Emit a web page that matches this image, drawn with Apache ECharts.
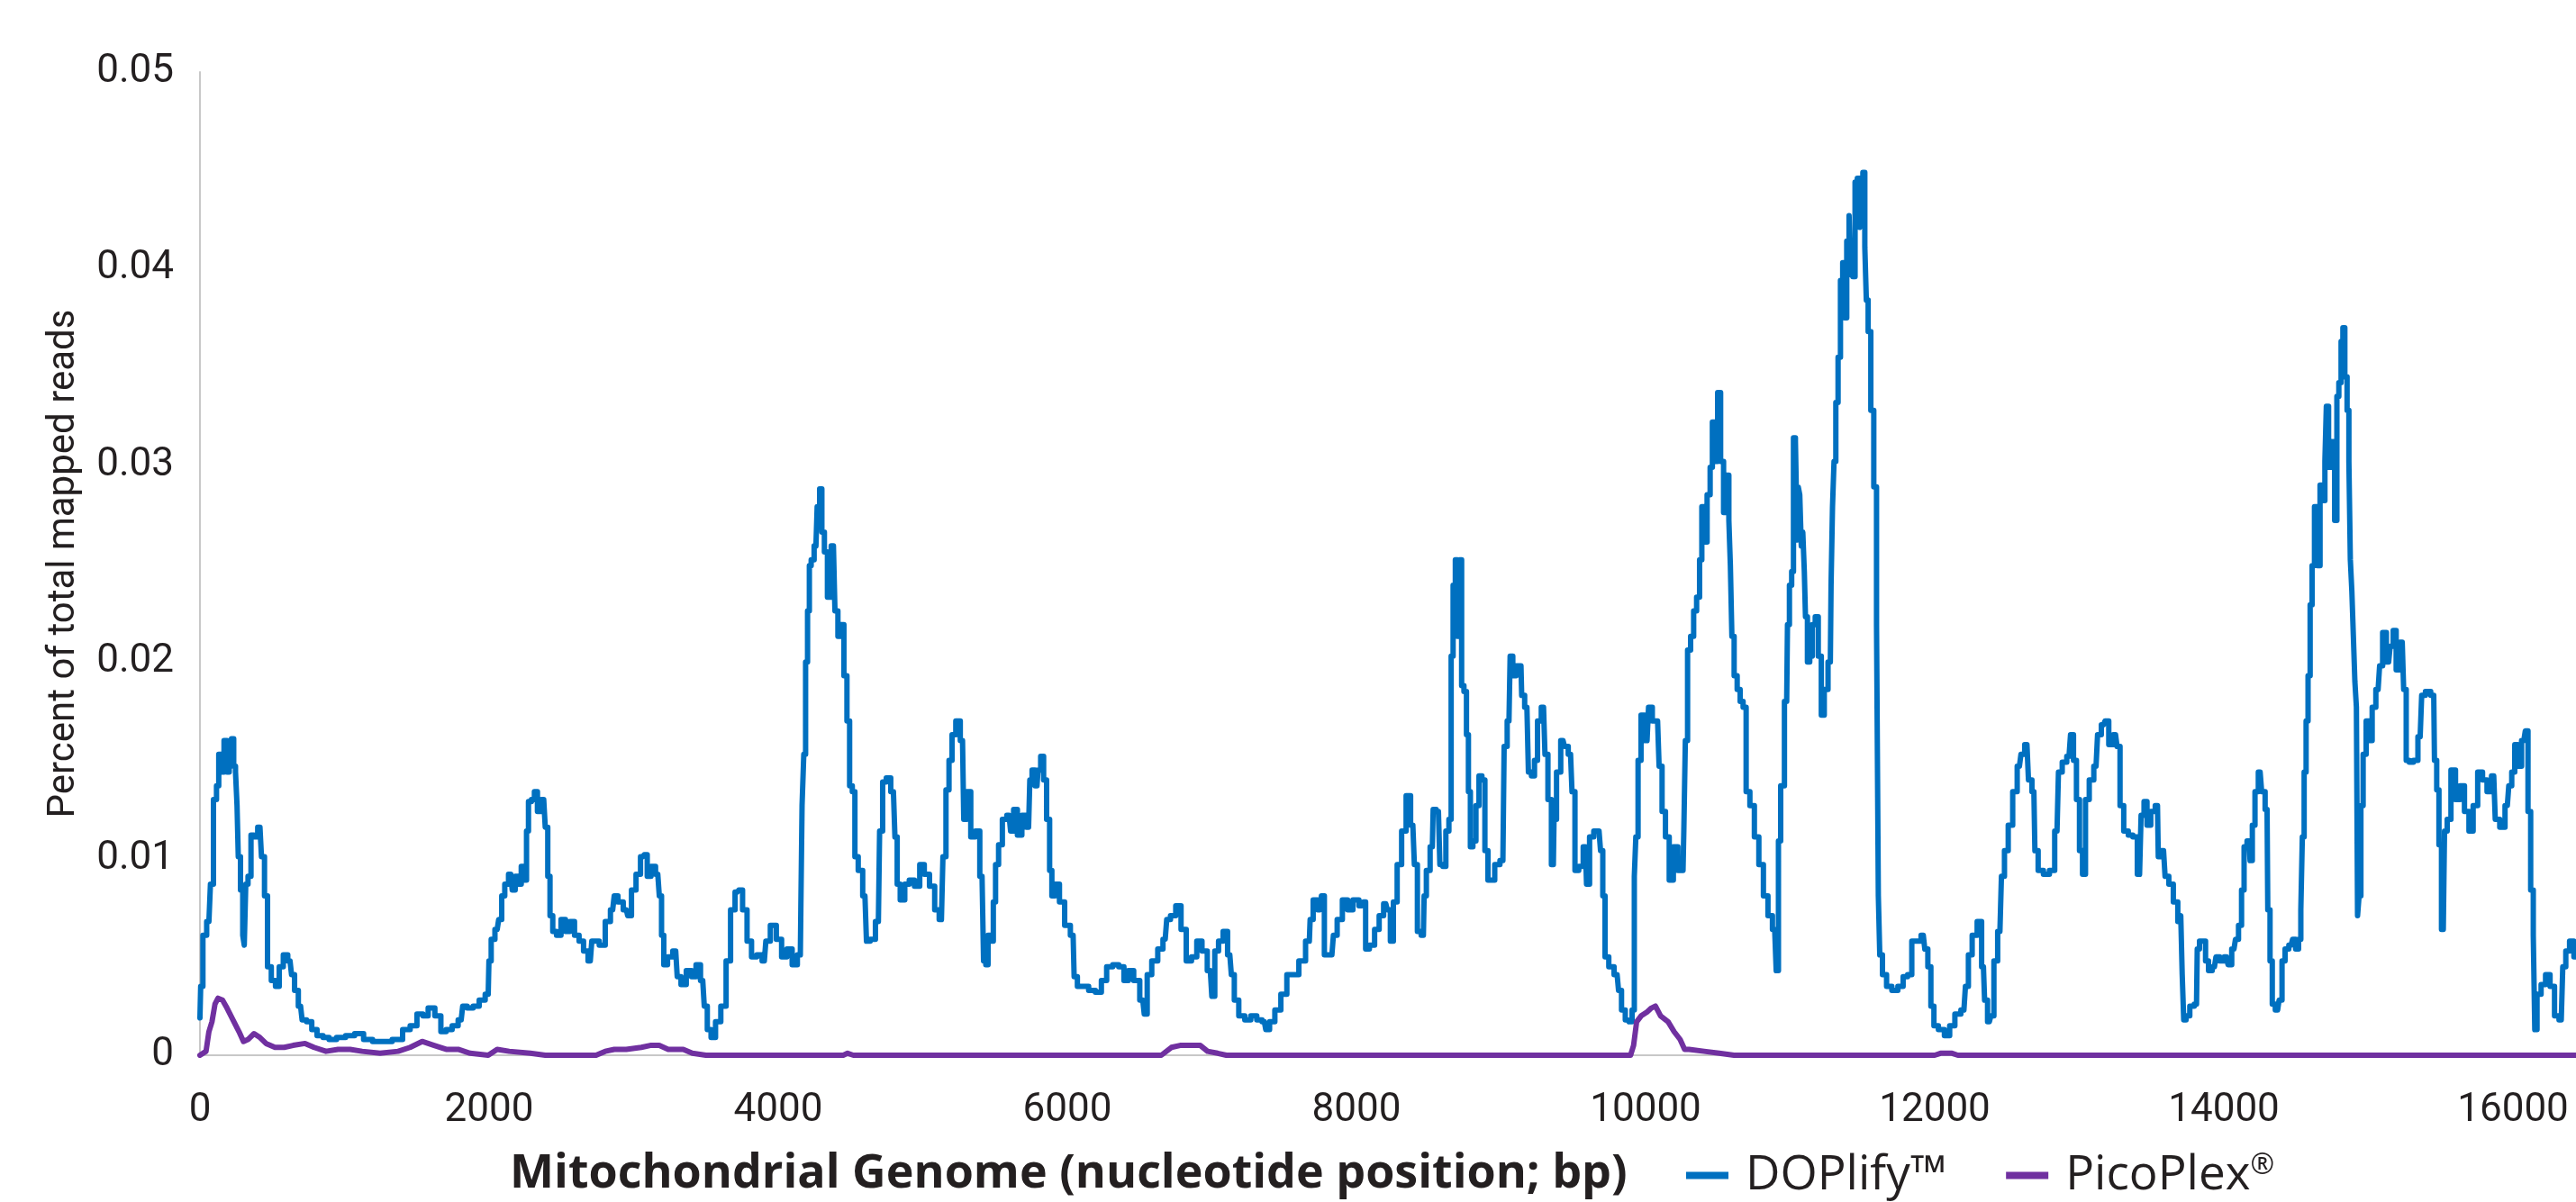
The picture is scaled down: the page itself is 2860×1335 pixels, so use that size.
<!DOCTYPE html>
<html>
<head>
<meta charset="utf-8">
<script src="https://cdn.jsdelivr.net/npm/echarts@6/dist/echarts.min.js"></script>
<style>
html,body{margin:0;padding:0;background:#fff;}
#chart{width:2860px;height:1335px;}
</style>
</head>
<body>
<div id="chart"></div>
<script>
// Series names
const seriesNames = ['DOPlify™', 'PicoPlex®'];
const xAxisTitle = 'Mitochondrial Genome (nucleotide position; bp)';
const yAxisTitle = 'Percent of total mapped reads';

// [nucleotide position (bp), percent of total mapped reads]
const doplifyCoverage = [
[0,0.0019],[10,0.0035],[31,0.0061],[62,0.0068],[83,0.0087],[104,0.0130],[125,0.0137],[135,0.0153],[156,0.0144],[177,0.0160],[197,0.0144],[208,0.0157],[228,0.0161],[239,0.0147],[253,0.0144],[260,0.0127],[270,0.0101],[291,0.0084],[301,0.0061],[312,0.0056],[322,0.0087],[343,0.0091],[363,0.0112],[384,0.0111],[415,0.0116],[436,0.0101],[457,0.0081],[478,0.0045],[509,0.0038],[536,0.0035],[561,0.0045],[592,0.0051],[623,0.0048],[644,0.0041],[665,0.0033],[696,0.0025],[717,0.0018],[758,0.0017],[789,0.0013],[831,0.0010],[872,0.0009],[914,0.0008],[976,0.0009],[1039,0.0010],[1101,0.0011],[1163,0.0008],[1225,0.0007],[1288,0.0007],[1371,0.0008],[1433,0.0013],[1475,0.0015],[1527,0.0021],[1558,0.0020],[1599,0.0024],[1651,0.0020],[1682,0.0012],[1724,0.0013],[1765,0.0015],[1807,0.0018],[1828,0.0025],[1869,0.0024],[1911,0.0025],[1952,0.0028],[1994,0.0031],[2004,0.0048],[2025,0.0059],[2056,0.0064],[2077,0.0069],[2098,0.0081],[2119,0.0087],[2150,0.0092],[2170,0.0084],[2191,0.0091],[2212,0.0087],[2233,0.0096],[2254,0.0089],[2264,0.0114],[2281,0.0129],[2305,0.0130],[2322,0.0134],[2347,0.0124],[2378,0.0130],[2399,0.0116],[2413,0.0091],[2430,0.0071],[2451,0.0063],[2482,0.0061],[2513,0.0069],[2544,0.0063],[2575,0.0068],[2607,0.0061],[2638,0.0058],[2669,0.0053],[2700,0.0048],[2721,0.0058],
[2741,0.0058],[2783,0.0056],[2824,0.0068],[2855,0.0074],[2876,0.0081],[2907,0.0078],[2949,0.0074],[2969,0.0071],[3001,0.0084],[3032,0.0092],[3063,0.0101],[3084,0.0102],[3104,0.0091],[3136,0.0096],[3167,0.0092],[3188,0.0081],[3198,0.0061],[3219,0.0046],[3250,0.0050],[3291,0.0053],[3312,0.0040],[3343,0.0036],[3385,0.0043],[3416,0.0040],[3447,0.0046],[3478,0.0038],[3499,0.0025],[3520,0.0013],[3551,0.0009],[3582,0.0017],[3624,0.0025],[3655,0.0048],[3686,0.0074],[3717,0.0083],[3738,0.0084],[3769,0.0074],[3800,0.0058],[3831,0.0050],[3873,0.0051],[3904,0.0048],[3925,0.0058],[3966,0.0066],[4008,0.0059],[4039,0.0050],[4081,0.0054],[4112,0.0046],[4153,0.0051],[4160,0.0074],[4170,0.0127],[4184,0.0153],[4195,0.0200],[4211,0.0226],[4220,0.0249],[4236,0.0252],[4261,0.0259],[4278,0.0279],[4295,0.0288],[4309,0.0266],[4330,0.0256],[4351,0.0233],[4382,0.0259],[4403,0.0226],[4423,0.0213],[4444,0.0219],[4465,0.0193],[4486,0.0170],[4502,0.0137],[4523,0.0134],[4538,0.0101],[4569,0.0094],[4600,0.0081],[4621,0.0058],[4652,0.0059],[4693,0.0068],[4710,0.0114],[4735,0.0139],[4760,0.0141],[4797,0.0134],[4818,0.0111],[4828,0.0087],[4860,0.0079],[4891,0.0087],[4922,0.0089],[4963,0.0086],[4995,0.0097],[5026,0.0092],[5067,0.0086],[5098,0.0074],[5129,0.0069],[5150,0.0101],[5171,0.0135],[5192,0.0150],[5213,0.0163],[5244,0.0170],[5275,0.0160],[5292,0.0120],[5316,0.0134],[5348,0.0111],[5379,0.0114],[5410,0.0091],[5431,0.0048],[5441,0.0046],[5462,0.0061],
[5483,0.0058],[5493,0.0078],[5514,0.0097],[5535,0.0107],[5566,0.0120],[5597,0.0122],[5618,0.0114],[5639,0.0125],[5670,0.0112],[5701,0.0122],[5732,0.0116],[5749,0.0140],[5763,0.0145],[5790,0.0137],[5805,0.0145],[5826,0.0152],[5846,0.0140],[5867,0.0120],[5888,0.0094],[5898,0.0081],[5930,0.0087],[5961,0.0078],[6002,0.0066],[6040,0.0061],[6054,0.0040],[6085,0.0035],[6127,0.0035],[6168,0.0033],[6220,0.0032],[6251,0.0038],[6293,0.0045],[6335,0.0046],[6376,0.0045],[6407,0.0038],[6438,0.0043],[6480,0.0038],[6522,0.0028],[6542,0.0021],[6563,0.0041],[6605,0.0048],[6646,0.0054],[6677,0.0059],[6698,0.0069],[6729,0.0071],[6771,0.0076],[6802,0.0064],[6843,0.0048],[6875,0.0050],[6916,0.0058],[6947,0.0053],[6989,0.0043],[7010,0.0030],[7030,0.0053],[7062,0.0058],[7093,0.0063],[7124,0.0051],[7145,0.0041],[7165,0.0028],[7207,0.0020],[7248,0.0018],[7290,0.0020],[7331,0.0018],[7363,0.0017],[7383,0.0013],[7415,0.0017],[7456,0.0023],[7498,0.0031],[7539,0.0041],[7581,0.0041],[7622,0.0048],[7674,0.0058],[7685,0.0069],[7716,0.0079],[7747,0.0074],[7768,0.0081],[7788,0.0051],[7830,0.0051],[7851,0.0061],[7882,0.0069],[7923,0.0079],[7955,0.0074],[7996,0.0079],[8038,0.0076],[8058,0.0078],[8069,0.0054],[8110,0.0056],[8141,0.0064],[8173,0.0071],[8203,0.0077],
[8224,0.0074],[8245,0.0058],[8266,0.0078],[8297,0.0097],[8328,0.0114],[8359,0.0132],[8390,0.0117],[8411,0.0097],[8432,0.0063],[8463,0.0061],[8473,0.0081],[8494,0.0094],[8525,0.0106],[8536,0.0125],[8567,0.0124],[8587,0.0097],[8608,0.0096],[8629,0.0114],[8650,0.0120],[8660,0.0203],[8677,0.0239],[8691,0.0252],[8706,0.0213],[8722,0.0252],[8733,0.0188],[8754,0.0185],[8768,0.0163],[8781,0.0134],[8795,0.0106],[8816,0.0109],[8837,0.0127],[8858,0.0142],[8878,0.0140],[8899,0.0104],[8920,0.0089],[8941,0.0089],[8972,0.0097],[9013,0.0099],[9030,0.0157],[9055,0.0170],[9071,0.0203],[9092,0.0193],[9117,0.0198],[9138,0.0198],[9148,0.0183],[9179,0.0177],[9200,0.0144],[9221,0.0142],[9242,0.0150],[9263,0.0170],[9294,0.0177],[9314,0.0153],[9335,0.0130],[9362,0.0097],[9371,0.0120],[9397,0.0144],[9429,0.0160],[9449,0.0157],[9481,0.0153],[9501,0.0134],[9522,0.0094],[9553,0.0096],[9584,0.0106],[9599,0.0087],[9626,0.0111],[9657,0.0114],[9678,0.0114],[9699,0.0104],[9709,0.0081],[9730,0.0050],[9761,0.0045],[9803,0.0041],[9823,0.0033],[9844,0.0023],[9875,0.0018],[9896,0.0017],[9917,0.0023],[9927,0.0091],[9938,0.0111],[9958,0.0150],[9979,0.0173],[10010,0.0160],[10031,0.0177],[10062,0.0170],[10083,0.0170],[10104,0.0147],[10124,0.0124],[10151,0.0111],[10176,0.0089],[10208,0.0106],[10239,0.0094],[10259,0.0094],[10270,0.0114],[10280,0.0160],[10301,0.0206],[10322,0.0213],[10343,0.0226],[10363,0.0233],[10384,0.0252],[10394,0.0279],[10415,0.0261],[10436,0.0285],[10457,0.0299],[10467,0.0322],[10488,0.0302],[10509,0.0337],[10529,0.0302],[10550,0.0276],[10571,0.0295],[10581,0.0272],[10592,0.0249],[10602,0.0213],[10623,0.0193],[10644,0.0186],[10664,0.0180],[10685,0.0177],[10706,0.0134],[10737,0.0127],[10768,0.0111],[10799,0.0097],[10831,0.0081],[10862,0.0071],[10893,0.0064],[10914,0.0043],[10924,0.0109],[10945,0.0137],
[10976,0.0180],[10987,0.0219],[11003,0.0239],[11018,0.0246],[11028,0.0314],[11045,0.0312],[11053,0.0262],[11059,0.0289],[11074,0.0285],[11080,0.0259],[11095,0.0266],[11101,0.0246],[11111,0.0223],[11128,0.0200],[11143,0.0203],[11163,0.0219],[11184,0.0223],[11205,0.0203],[11226,0.0173],[11246,0.0186],[11278,0.0200],[11288,0.0239],[11298,0.0279],[11309,0.0302],[11323,0.0332],[11340,0.0355],[11356,0.0394],[11371,0.0403],[11381,0.0375],[11402,0.0414],[11413,0.0427],[11423,0.0397],[11444,0.0396],[11454,0.0444],[11475,0.0446],[11485,0.0421],[11496,0.0427],[11510,0.0449],[11523,0.0411],[11531,0.0384],[11548,0.0368],[11568,0.0328],[11589,0.0289],[11606,0.0219],[11614,0.0081],[11626,0.0051],[11651,0.0041],[11683,0.0035],[11724,0.0033],[11766,0.0035],[11797,0.0040],[11828,0.0041],[11855,0.0058],[11890,0.0058],[11921,0.0061],[11942,0.0054],[11963,0.0045],[11984,0.0025],[12005,0.0015],[12046,0.0013],[12088,0.0010],[12119,0.0015],[12160,0.0021],[12202,0.0023],[12223,0.0035],[12243,0.0051],[12275,0.0061],[12312,0.0068],[12337,0.0045],[12353,0.0028],[12378,0.0017],[12399,0.0020],[12420,0.0048],[12451,0.0063],[12472,0.0091],[12493,0.0104],[12524,0.0117],[12555,0.0134],[12586,0.0147],[12607,0.0153],[12638,0.0158],[12659,0.0140],[12686,0.0134],[12700,0.0104],[12731,0.0094],[12773,0.0092],[12814,0.0094],[12846,0.0114],[12866,0.0144],[12898,0.0149],[12929,0.0152],[12950,0.0163],[12970,0.0150],[12991,0.0130],[13012,0.0104],[13033,0.0092],[13053,0.0130],[13085,0.0140],[13116,0.0147],[13137,0.0163],[13168,0.0168],[13188,0.0170],[13220,0.0158],[13251,0.0163],[13272,0.0157],[13292,0.0127],[13323,0.0114],[13355,0.0112],[13386,0.0111],[13417,0.0092],[13438,0.0122],[13458,0.0129],[13479,0.0117],[13510,0.0124],[13541,0.0127],[13552,0.0101],[13583,0.0104],[13604,0.0091],[13635,0.0087],[13666,0.0078],[13697,0.0068],
[13707,0.0071],[13717,0.0041],[13728,0.0018],[13749,0.0020],[13780,0.0025],[13811,0.0026],[13821,0.0054],[13842,0.0058],[13863,0.0058],[13884,0.0048],[13904,0.0043],[13935,0.0045],[13956,0.0050],[13987,0.0048],[14019,0.0050],[14039,0.0046],[14070,0.0054],[14091,0.0059],[14112,0.0066],[14133,0.0084],[14147,0.0106],[14174,0.0109],[14189,0.0099],[14205,0.0117],[14226,0.0134],[14251,0.0144],[14272,0.0134],[14299,0.0125],[14309,0.0074],[14330,0.0048],[14340,0.0026],[14372,0.0023],[14392,0.0028],[14413,0.0048],[14434,0.0054],[14465,0.0056],[14486,0.0059],[14507,0.0054],[14527,0.0059],[14538,0.0074],[14548,0.0111],[14563,0.0144],[14575,0.0170],[14590,0.0193],[14604,0.0229],[14617,0.0249],[14637,0.0279],[14658,0.0249],[14673,0.0290],[14694,0.0282],[14704,0.0302],[14714,0.0330],[14735,0.0299],[14756,0.0312],[14777,0.0272],[14787,0.0335],[14804,0.0342],[14818,0.0363],[14829,0.0370],[14845,0.0345],[14860,0.0328],[14870,0.0302],[14880,0.0252],[14891,0.0236],[14901,0.0213],[14912,0.0190],[14922,0.0177],[14928,0.0071],[14943,0.0081],[14953,0.0127],[14974,0.0153],[14995,0.0170],[15016,0.0160],[15036,0.0177],[15067,0.0186],[15088,0.0198],[15109,0.0215],[15140,0.0200],[15161,0.0208],[15182,0.0216],[15202,0.0196],[15234,0.0210],[15254,0.0186],[15269,0.0150],[15296,0.0149],[15327,0.0150],[15358,0.0162],[15379,0.0183],[15410,0.0185],[15452,0.0183],[15462,0.0150],[15483,0.0135],[15493,0.0107],[15518,0.0064],[15535,0.0114],[15555,0.0120],[15587,0.0145],[15618,0.0130],[15649,0.0137],[15680,0.0124],[15711,0.0114],[15738,0.0127],[15774,0.0144],[15805,0.0140],[15836,0.0134],[15867,0.0142],[15888,0.0120],[15929,0.0116],[15961,0.0127],[15981,0.0137],[16002,0.0144],[16023,0.0158],[16044,0.0147],[16075,0.0160],[16096,0.0165],[16112,0.0124],[16133,0.0084],[16148,0.0061],[16154,0.0013],[16179,0.0031],[16210,0.0036],[16241,0.0041],[16272,0.0035],[16303,0.0020],[16334,0.0018],[16355,0.0045],[16376,0.0053],[16407,0.0058],[16436,0.0050]
];

const picoplexCoverage = [
[0,0],[42,0.0002],[62,0.0012],[83,0.0017],[104,0.0026],[125,0.0029],[156,0.0028],[187,0.0024],[228,0.0018],[270,0.0012],[301,0.0007],[332,0.0008],[374,0.0011],[415,0.0009],[457,0.0006],[519,0.0004],[582,0.0004],[644,0.0005],[727,0.0006],[789,0.0004],[872,0.0002],[955,0.0003],[1039,0.0003],[1122,0.0002],[1246,0.0001],[1371,0.0002],[1454,0.0004],[1537,0.0007],[1620,0.0005],[1703,0.0003],[1786,0.0003],[1869,0.0001],[1994,0],[2056,0.0003],[2139,0.0002],[2285,0.0001],[2389,0],[2740,0],[2803,0.0002],[2866,0.0003],[2949,0.0003],[3053,0.0004],[3115,0.0005],[3177,0.0005],[3239,0.0003],[3343,0.0003],[3406,0.0001],[3500,0],[4450,0],[4480,0.0001],[4520,0],[6650,0],[6720,0.0004],[6780,0.0005],[6850,0.0005],[6920,0.0005],[6970,0.0002],[7040,0.0001],[7100,0],[9896,0],[9917,0.0005],[9938,0.0017],[9969,0.0020],[10010,0.0022],[10040,0.0024],[10068,0.0025],[10104,0.0020],[10156,0.0017],[10197,0.0012],[10239,0.0008],[10270,0.0003],[10301,0.0003],[10405,0.0002],[10509,0.0001],[10612,0],[12000,0],[12040,0.0001],[12120,0.0001],[12160,0],[16436,0]
];

const chart = echarts.init(document.getElementById('chart'), null, {renderer: 'canvas'});
const FONT = 'Roboto';
const TITLE_FONT = 'Open Sans';
const TEXT = '#231F20';
chart.setOption({
  animation: false,
  backgroundColor: '#ffffff',
  title: {
    text: xAxisTitle,
    left: 566,
    top: 1278,
    padding: 0,
    textStyle: {fontFamily: TITLE_FONT, fontSize: 52, fontWeight: 'bold', color: TEXT}
  },
  legend: {
    data: seriesNames,
    left: 1872,
    top: 1279,
    padding: 0,
    icon: 'rect',
    itemWidth: 47,
    itemHeight: 8,
    itemGap: 66,
    formatter: function (name) {
      if (name.slice(-1) === '®') return '{n|' + name.slice(0, -1) + '}{s|®}';
      return '{n|' + name + '}';
    },
    textStyle: {
      fontFamily: TITLE_FONT, fontSize: 53, color: TEXT, padding: [0, 0, 0, 14],
      rich: {
        n: {fontFamily: TITLE_FONT, fontSize: 53, color: TEXT},
        s: {fontFamily: TITLE_FONT, fontSize: 32, color: TEXT, verticalAlign: 'top', padding: [0, 0, 18, 0]}
      }
    }
  },
  grid: {left: 222, right: 0, top: 80, bottom: 163, containLabel: false},
  xAxis: {
    type: 'value',
    min: 0,
    max: 16436,
    interval: 2000,
    axisLine: {show: true, onZero: true, lineStyle: {color: '#C8C8C8', width: 2}},
    axisTick: {show: false},
    splitLine: {show: false},
    axisLabel: {fontFamily: FONT, fontSize: 44, color: TEXT, margin: 40, showMaxLabel: false,
      formatter: function (v) { return String(v); }}
  },
  yAxis: {
    type: 'value',
    min: 0,
    max: 0.05,
    interval: 0.01,
    name: yAxisTitle,
    nameLocation: 'middle',
    nameGap: 130,
    nameTextStyle: {fontFamily: FONT, fontSize: 42, color: TEXT},
    axisLine: {show: true, lineStyle: {color: '#C8C8C8', width: 2}},
    axisTick: {show: false},
    splitLine: {show: false},
    axisLabel: {fontFamily: FONT, fontSize: 44, color: TEXT, margin: 29}
  },
  series: [
    {
      name: seriesNames[0],
      type: 'line',
      data: doplifyCoverage,
      step: 'middle',
      showSymbol: false,
      symbol: 'none',
      sampling: false,
      color: '#0070C0',
      lineStyle: {color: '#0070C0', width: 6, cap: 'round', join: 'round'},
      z: 3
    },
    {
      name: seriesNames[1],
      type: 'line',
      data: picoplexCoverage,
      showSymbol: false,
      symbol: 'none',
      color: '#7030A0',
      lineStyle: {color: '#7030A0', width: 6, cap: 'round', join: 'round'},
      z: 4
    }
  ]
});
</script>
</body>
</html>
